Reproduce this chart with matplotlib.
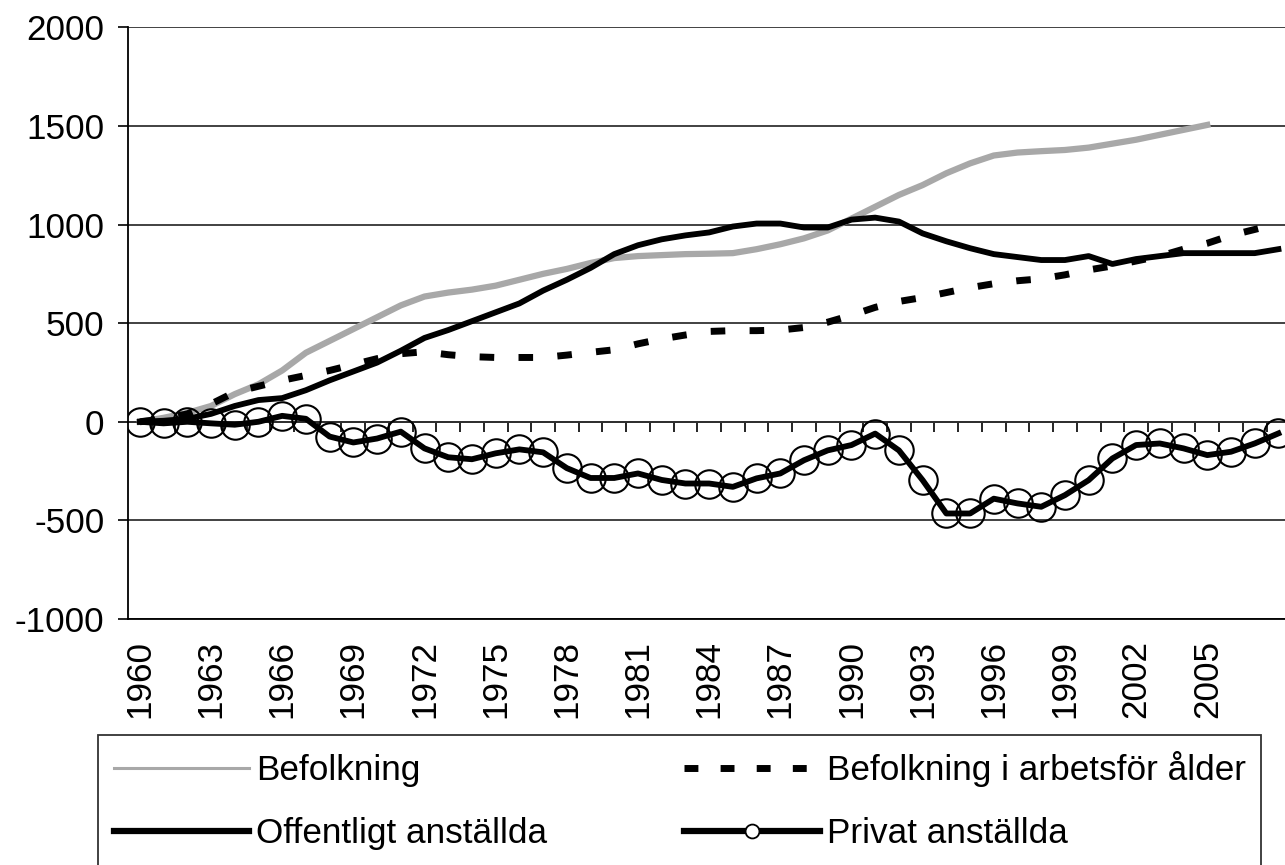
import matplotlib
matplotlib.use("Agg")
import matplotlib.pyplot as plt
from matplotlib.lines import Line2D

plt.rcParams["font.family"] = ["Liberation Sans", "DejaVu Sans"]
plt.rcParams["font.size"] = 25.3
plt.rcParams["axes.unicode_minus"] = False

# data, annual 1960-2008
years = list(range(1960, 2009))
years_bef = list(range(1960, 2006))
befolkning = [0, 20, 45, 80, 140, 190, 260, 350, 410, 470,
              530, 590, 635, 655, 670, 690, 720, 750, 775, 805,
              830, 840, 845, 850, 852, 855, 875, 900, 930, 970,
              1030, 1090, 1150, 1200, 1260, 1310, 1350, 1365, 1372, 1378,
              1390, 1410, 1430, 1455, 1480, 1505]
arbetsfor = [0, 15, 40, 90, 150, 180, 210, 235, 260, 290,
             320, 345, 355, 340, 330, 326, 326, 326, 338, 352,
             365, 395, 420, 440, 458, 462, 462, 465, 478, 505,
             540, 580, 610, 630, 655, 680, 700, 715, 725, 745,
             770, 790, 815, 840, 875, 905, 945, 975, 1005]
offentligt = [0, 5, 15, 40, 80, 110, 120, 160, 210, 255,
              300, 360, 425, 465, 510, 555, 600, 665, 720, 780,
              850, 895, 925, 945, 960, 990, 1005, 1005, 985, 985,
              1025, 1035, 1015, 955, 915, 880, 850, 835, 820, 820,
              840, 800, 825, 840, 855, 855, 855, 855, 875]
privat = [0, -8, 0, -8, -15, 0, 30, 15, -75, -105,
          -85, -50, -135, -180, -190, -160, -140, -155, -235, -285,
          -285, -262, -295, -313, -313, -330, -287, -262, -195, -145,
          -118, -60, -145, -296, -465, -465, -390, -414, -431, -372,
          -296, -186, -118, -110, -135, -169, -152, -110, -59]

labels = ["Befolkning", "Befolkning i arbetsför ålder",
          "Offentligt anställda", "Privat anställda"]
label_years = list(range(1960, 2006, 3))

W, H = 1285, 865
fig = plt.figure(figsize=(W / 100, H / 100), dpi=100)
ax = fig.add_axes([128 / W, 1 - 619 / H, 1 - 128 / W, (619 - 27.3) / H])

gray = "#a8a8a8"
ax.plot(years_bef, befolkning, color=gray, lw=4.5, zorder=3)
ax.plot(years, arbetsfor, color="black", lw=5, dashes=(2.1, 3.5),
        dash_capstyle="butt", zorder=3)
ax.plot(years, offentligt, color="black", lw=4.2, zorder=4)
ax.plot(years, privat, color="black", lw=4.2, marker="o", ms=20.5,
        mfc="none", mec="black", mew=1.5, zorder=5)

ax.set_xlim(1959.5, 1959.5 + (W - 128) / 23.72)
ax.set_ylim(-1000, 2000)
ax.set_yticks(range(-1000, 2001, 500))
ax.grid(axis="y", color="#333333", lw=1.3)
ax.set_axisbelow(True)
for s in ["top", "right"]:
    ax.spines[s].set_visible(False)
ax.spines["left"].set_linewidth(1.3)
ax.spines["bottom"].set_linewidth(1.3)
ax.tick_params(axis="y", length=7, width=1.2, pad=10, labelsize=25.3)
ax.set_xticks(label_years)
ax.set_xticklabels([str(y) for y in label_years], rotation=90, va="top",
                   ha="center")
ax.tick_params(axis="x", length=0, pad=15, labelsize=25.3)

# tick marks between years on the zero line
zero = ax.secondary_xaxis(1 / 3)
zero.set_xticks([y + 0.5 for y in years[:-1]])
zero.tick_params(axis="x", length=7, width=1.2, direction="out",
                 labelbottom=False, labeltop=False)
zero.spines["bottom"].set_linewidth(1.3)

handles = [
    Line2D([], [], color=gray, lw=2.2),
    Line2D([], [], color="black", lw=4.5),
    Line2D([], [], color="black", lw=5, dashes=(2.0, 3.2),
           dash_capstyle="butt"),
    Line2D([], [], color="black", lw=4.5, marker="o", ms=10, mfc="white",
           mec="black", mew=1.3),
]
leg = fig.legend(handles, [labels[0], labels[2], labels[1], labels[3]],
                 loc="upper left", bbox_to_anchor=(98 / W, 1 - 735 / H),
                 ncol=2, fontsize=25.3, frameon=True, fancybox=False,
                 edgecolor="black", borderpad=0.45, handlelength=3.85,
                 handletextpad=0.2, columnspacing=3.9, labelspacing=0.86,
                 borderaxespad=0)
leg.get_frame().set_linewidth(1.3)

fig.savefig("out.png", dpi=100)
